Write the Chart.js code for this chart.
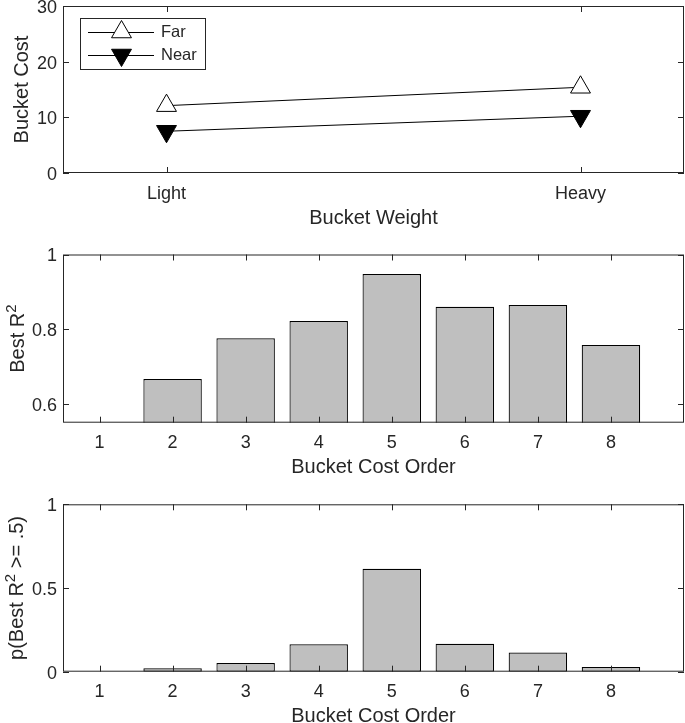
<!DOCTYPE html>
<html>
<head>
<meta charset="utf-8">
<script src="https://cdn.jsdelivr.net/npm/chart.js@4/dist/chart.umd.min.js"></script>
<style>
    html, body { margin: 0; padding: 0; background: #fff; }
    #wrap { position: relative; width: 685px; height: 723px; }
    canvas { position: absolute; left: 0; }
</style>
</head>
<body>
<div id="wrap">
    <canvas id="costChart" width="685" height="240" style="top:0px"></canvas>
    <canvas id="r2Chart" width="685" height="245" style="top:240px"></canvas>
    <canvas id="pChart" width="685" height="238" style="top:485px"></canvas>
</div>
<script>
// top plot
const weightLabels = ['Light', 'Heavy'];
const farCost = [12.1, 15.4];
const nearCost = [7.5, 10.2];
const costTicks = [0, 10, 20, 30];

// bar plots
const orderLabels = [1, 2, 3, 4, 5, 6, 7, 8];
const bestR2 = [0.5, 0.667, 0.776, 0.822, 0.948, 0.86, 0.865, 0.758];
const r2Ticks = [0.6, 0.8, 1];
const pBestR2 = [0, 0.02, 0.052, 0.164, 0.615, 0.167, 0.114, 0.028];
const pTicks = [0, 0.5, 1];

const INK = '#262626';
const FONT = '"Liberation Sans", Arial, sans-serif';

Chart.defaults.font.family = FONT;
Chart.defaults.font.size = 18;
Chart.defaults.color = INK;

const drawTriangle = (ctx, x, y, r, rot, fill) => {
    let a = rot * Math.PI / 180;
    ctx.beginPath();
    ctx.moveTo(x + Math.sin(a) * r, y - Math.cos(a) * r);
    a += 2 * Math.PI / 3;
    ctx.lineTo(x + Math.sin(a) * r, y - Math.cos(a) * r);
    a += 2 * Math.PI / 3;
    ctx.lineTo(x + Math.sin(a) * r, y - Math.cos(a) * r);
    ctx.closePath();
    ctx.fillStyle = fill;
    ctx.fill();
    ctx.strokeStyle = '#000';
    ctx.lineWidth = 1;
    ctx.stroke();
}

// matlab-ish box, inward ticks, axis titles and legend
const axesBox = {
    id: 'axesBox',
    afterDraw(chart, args, opts) {
        const ctx = chart.ctx;
        const a = chart.chartArea;
        const xs = chart.scales.x, ys = chart.scales.y;
        ctx.save();
        ctx.strokeStyle = INK;
        ctx.lineWidth = 1;
        ctx.strokeRect(a.left + 0.5, a.top + 0.5, a.right - a.left - 1, a.bottom - a.top - 1);

        ctx.beginPath();
        xs.ticks.forEach(t => {
            const px = Math.round(xs.getPixelForValue(t.value)) + 0.5;
            ctx.moveTo(px, a.bottom); ctx.lineTo(px, a.bottom - 6);
            ctx.moveTo(px, a.top); ctx.lineTo(px, a.top + 6);
        });
        ys.ticks.forEach(t => {
            const py = Math.round(ys.getPixelForValue(t.value)) + 0.5;
            ctx.moveTo(a.left, py); ctx.lineTo(a.left + 6, py);
            ctx.moveTo(a.right, py); ctx.lineTo(a.right - 6, py);
        });
        ctx.stroke();

        // x title
        ctx.fillStyle = INK;
        ctx.font = '20px ' + FONT;
        ctx.textAlign = 'center';
        ctx.textBaseline = 'middle';
        ctx.fillText(opts.xTitle, (a.left + a.right) / 2, a.bottom + 45);

        // y title, may carry a superscript
        ctx.save();
        ctx.translate(opts.yTitleX, (a.top + a.bottom) / 2);
        ctx.rotate(-Math.PI / 2);
        ctx.textAlign = 'left';
        ctx.textBaseline = 'alphabetic';
        const partFont = p => (p.sup ? '15px ' : '20px ') + FONT;
        let total = 0;
        opts.yTitle.forEach(p => { ctx.font = partFont(p); total += ctx.measureText(p.text).width; });
        let cx = -total / 2;
        opts.yTitle.forEach(p => {
            ctx.font = partFont(p);
            ctx.fillText(p.text, cx, p.sup ? -8 : 0);
            cx += ctx.measureText(p.text).width;
        });
        ctx.restore();

        if (opts.legend) {
            const lg = opts.legend;
            ctx.fillStyle = '#fff';
            ctx.fillRect(lg.x, lg.y, lg.w, lg.h);
            ctx.strokeStyle = INK;
            ctx.strokeRect(lg.x + 0.5, lg.y + 0.5, lg.w, lg.h);
            ctx.font = '16.5px ' + FONT;
            ctx.textAlign = 'left';
            chart.data.datasets.forEach((ds, i) => {
                const yy = lg.y + 14 + i * 23;
                ctx.strokeStyle = '#000';
                ctx.beginPath();
                ctx.moveTo(lg.x + 8, yy + 0.5);
                ctx.lineTo(lg.x + 74, yy + 0.5);
                ctx.stroke();
                drawTriangle(ctx, lg.x + 41.5, yy, ds.pointRadius, ds.pointRotation, ds.pointBackgroundColor);
                ctx.fillStyle = INK;
                ctx.fillText(ds.label, lg.x + 81, yy);
            });
        }
        ctx.restore();
    }
};

const fixY = (w, ticks) => ({
    afterBuildTicks: s => { s.ticks = ticks.map(v => ({ value: v })); },
    afterFit: s => { s.width = w; s.paddingTop = 0; s.paddingBottom = 0; }
});
const fixX = (h, ticks) => ({
    afterBuildTicks: s => { s.ticks = ticks.map(v => ({ value: v })); },
    afterFit: s => { s.height = h; s.paddingLeft = 0; s.paddingRight = 0; }
});

const noGrid = { display: false, drawTicks: false };

const makeCostChart = () => {
    new Chart(document.querySelector('#costChart'), {
        type: 'line',
        data: {
            datasets: [
                {
                    label: 'Far',
                    data: weightLabels.map((w, i) => ({ x: i + 1, y: farCost[i] })),
                    borderColor: '#000',
                    borderWidth: 1,
                    pointStyle: 'triangle',
                    pointRadius: 11.5,
                    pointRotation: 0,
                    pointBackgroundColor: '#fff',
                    pointBorderColor: '#000',
                    pointBorderWidth: 1
                },
                {
                    label: 'Near',
                    data: weightLabels.map((w, i) => ({ x: i + 1, y: nearCost[i] })),
                    borderColor: '#000',
                    borderWidth: 1,
                    pointStyle: 'triangle',
                    pointRadius: 11.5,
                    pointRotation: 180,
                    pointBackgroundColor: '#000',
                    pointBorderColor: '#000',
                    pointBorderWidth: 1
                }
            ]
        },
        options: {
            responsive: false,
            animation: false,
            devicePixelRatio: 1,
            layout: { autoPadding: false, padding: { top: 6, right: 1, left: 0, bottom: 0 } },
            plugins: {
                legend: { display: false },
                tooltip: { enabled: false },
                axesBox: {
                    xTitle: 'Bucket Weight',
                    yTitle: [{ text: 'Bucket Cost' }],
                    yTitleX: 28,
                    legend: { x: 80, y: 18, w: 125, h: 51 }
                }
            },
            scales: {
                x: {
                    type: 'linear', min: 0.75, max: 2.25,
                    grid: noGrid, border: { display: false },
                    ticks: { padding: 10, maxRotation: 0, callback: v => weightLabels[v - 1] },
                    ...fixX(240 - 173, [1, 2])
                },
                y: {
                    type: 'linear', min: 0, max: 30,
                    grid: noGrid, border: { display: false },
                    ticks: { padding: 6, labelOffset: 2, callback: v => String(v) },
                    ...fixY(63, costTicks)
                }
            }
        },
        plugins: [axesBox]
    });
}

const makeBarChart = (sel, values, yMin, yTicks, top, bottom, height, yTitle, yTitleX) => {
    new Chart(document.querySelector(sel), {
        type: 'bar',
        data: {
            datasets: [{
                data: orderLabels.map((o, i) => ({ x: o, y: values[i] })),
                backgroundColor: '#bfbfbf',
                borderColor: '#000',
                borderWidth: 1.2,
                borderSkipped: false,
                barPercentage: 0.8,
                categoryPercentage: 1
            }]
        },
        options: {
            responsive: false,
            animation: false,
            devicePixelRatio: 1,
            layout: { autoPadding: false, padding: { top: top, right: 1, left: 0, bottom: 0 } },
            plugins: {
                legend: { display: false },
                tooltip: { enabled: false },
                axesBox: { xTitle: 'Bucket Cost Order', yTitle: yTitle, yTitleX: yTitleX }
            },
            scales: {
                x: {
                    type: 'linear', min: 0.5, max: 9, offset: false,
                    grid: noGrid, border: { display: false },
                    ticks: { padding: 10, maxRotation: 0, callback: v => String(v) },
                    ...fixX(height - bottom, orderLabels)
                },
                y: {
                    type: 'linear', min: yMin, max: 1,
                    grid: noGrid, border: { display: false },
                    ticks: { padding: 6, labelOffset: 2, callback: v => String(v) },
                    ...fixY(63, yTicks)
                }
            }
        },
        plugins: [axesBox]
    });
}

const main = () => {
    makeCostChart();
    makeBarChart('#r2Chart', bestR2, 0.55, r2Ticks, 14.5, 182.7, 245,
        [{ text: 'Best R' }, { text: '2', sup: true }], 24);
    makeBarChart('#pChart', pBestR2, 0, pTicks, 19.3, 186.7, 238,
        [{ text: 'p(Best R' }, { text: '2', sup: true }, { text: ' >= .5)' }], 23);
}

main();
</script>
</body>
</html>
